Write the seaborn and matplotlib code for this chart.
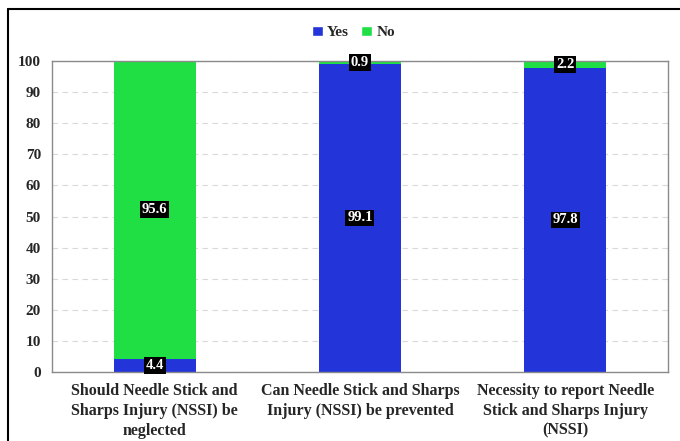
import matplotlib.pyplot as plt
import seaborn as sns
import pandas as pd
from matplotlib.lines import Line2D
from matplotlib.patches import Patch

# ── Data ─────────────────────────────────────────────────
questions = ['Should Needle Stick and\nSharps Injury (NSSI) be\nneglected',
             'Can Needle Stick and Sharps\nInjury (NSSI) be prevented',
             'Necessity to report Needle\nStick and Sharps Injury\n(NSSI)']
yes_pct = [4.4, 99.1, 97.8]
no_pct  = [95.6, 0.9, 2.2]

df = pd.DataFrame({'Question': questions, 'Yes': yes_pct, 'No': no_pct})
df['Total'] = df['Yes'] + df['No']

blue = '#2334d9'
green = '#1fdf45'

sns.set_theme(style='white')
plt.rcParams['font.family'] = ['Liberation Serif', 'DejaVu Serif']
plt.rcParams['font.weight'] = 'bold'

fig = plt.figure(figsize=(6.8, 4.41), dpi=100)
ax = fig.add_axes([0.0765, 0.156, 0.9055, 0.706])

# stacked bars: total (green) underneath, yes (blue) on top
sns.barplot(data=df, x='Question', y='Total', color=green, width=0.4,
            saturation=1, linewidth=0, ax=ax)
sns.barplot(data=df, x='Question', y='Yes', color=blue, width=0.4,
            saturation=1, linewidth=0, ax=ax)

box = dict(boxstyle='square,pad=0.12', facecolor='black', edgecolor='none')
for i, (y, n) in enumerate(zip(yes_pct, no_pct)):
    ax.text(i, y / 2, f'{y}', ha='center', va='center', color='white',
            fontsize=10.5, fontweight='bold', bbox=box)
    ax.text(i, y + n / 2, f'{n}', ha='center', va='center', color='white',
            fontsize=10.5, fontweight='bold', bbox=box)

ax.set_ylim(0, 100)
ax.set_xlim(-0.5, 2.5)
ax.set_yticks(range(0, 101, 10))
ax.yaxis.grid(True, linestyle=(0, (5, 4)), color='#d9d9d9', linewidth=0.8)
ax.set_axisbelow(True)
ax.set_xlabel('')
ax.set_ylabel('')
ax.tick_params(axis='y', length=0, labelsize=11, pad=8)
ax.tick_params(axis='x', length=0, labelsize=11.5, pad=8)
for lab in ax.get_xticklabels():
    lab.set_fontweight('bold')
    lab.set_linespacing(1.3)
for lab in ax.get_yticklabels():
    lab.set_fontweight('bold')
for s in ax.spines.values():
    s.set_color('#8a8a8a')
    s.set_linewidth(1.0)

handles = [Patch(facecolor=blue, label='Yes'), Patch(facecolor=green, label='No')]
fig.legend(handles=handles, loc='center', bbox_to_anchor=(0.52, 0.926), ncol=2,
           frameon=False, handlelength=0.7, handleheight=0.7, handletextpad=0.3,
           columnspacing=0.8, prop={'weight': 'bold', 'size': 11})

# outer frame
fig.add_artist(Line2D([8 / 680, 8 / 680], [0, 1 - 9 / 441], color='black',
                      linewidth=1.5, transform=fig.transFigure))
fig.add_artist(Line2D([8 / 680, 1], [1 - 9 / 441, 1 - 9 / 441], color='black',
                      linewidth=1.5, transform=fig.transFigure))

fig.savefig('out.png', dpi=100)
